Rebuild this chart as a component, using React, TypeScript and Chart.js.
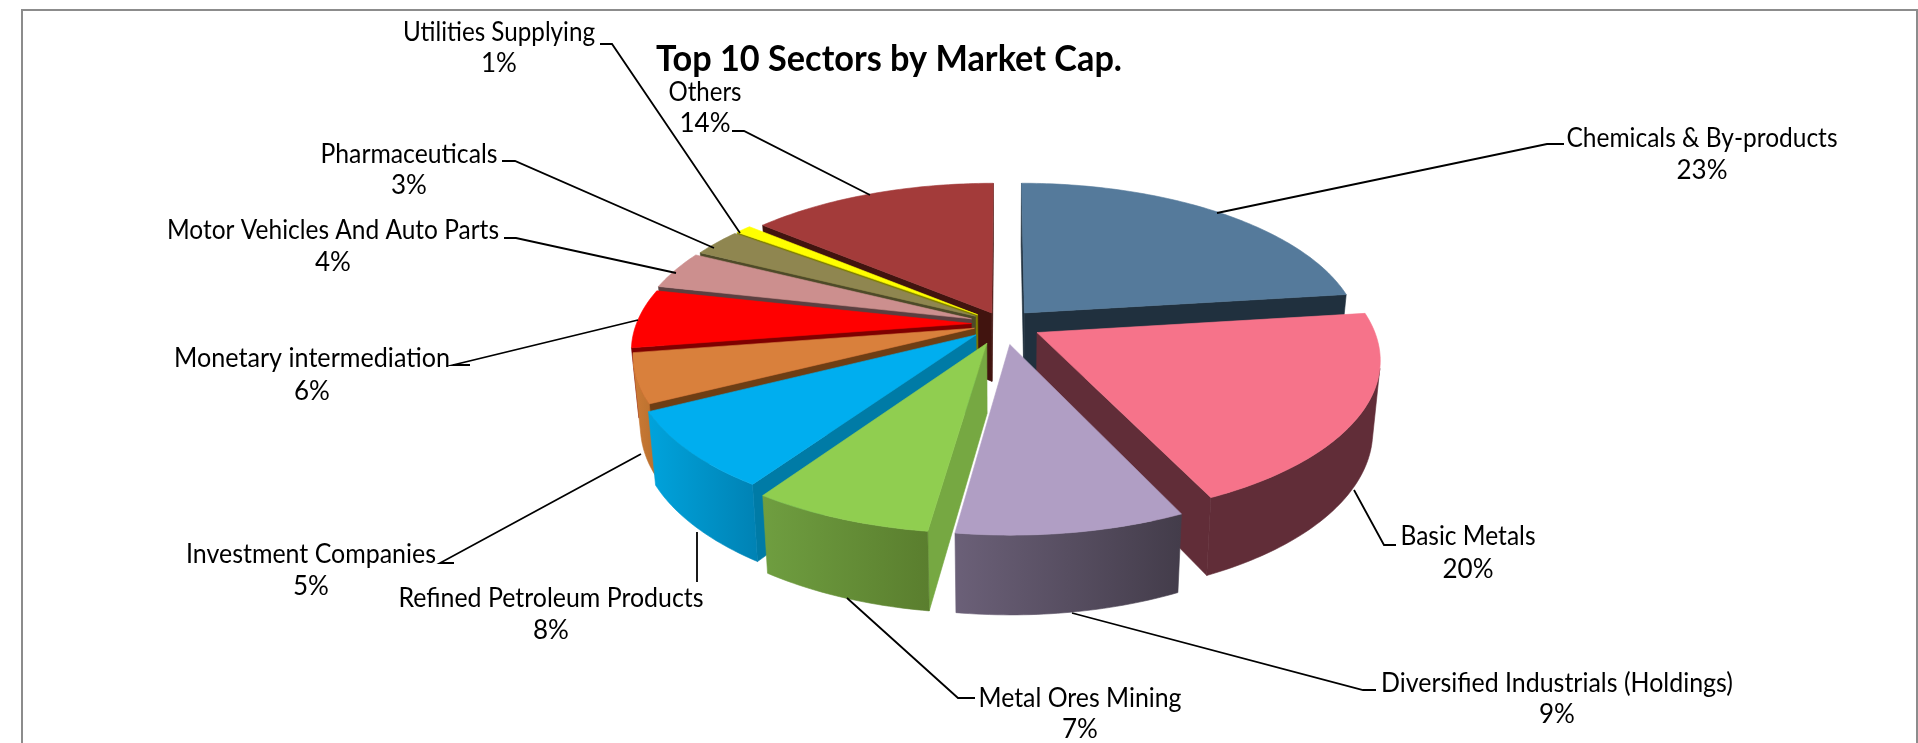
import React, { useEffect, useRef } from "react";
import { Chart, registerables } from "chart.js";

Chart.register(...registerables);

const categories = [
  "Chemicals & By-products",
  "Basic Metals",
  "Diversified Industrials (Holdings)",
  "Metal Ores Mining",
  "Refined Petroleum Products",
  "Investment Companies",
  "Monetary intermediation",
  "Motor Vehicles And Auto Parts",
  "Pharmaceuticals",
  "Utilities Supplying",
  "Others",
];
// the labels show them rounded to whole percents
const shares = [23, 20, 9.2, 7.3, 8.0, 5.04, 6.0, 3.9, 2.8, 0.9, 13.86];
const titleText = "Top 10 Sectors by Market Cap.";

// styling
const explode = [34, 40, 46, 46, 37, 31, 33, 35, 34, 34, 28];
const topColors = ["#557A9B", "#F6738A", "#B09EC4", "#90CE50", "#00AEEF", "#D9803C", "#FF0000", "#CC8F8E", "#8F8650", "#FFFF00", "#A33B3A"];
const cutColors = ["#20303E", "#612D38", "#4A4152", "#76A842", "#007BA6", "#6E3E14", "#7F0000", "#5B3F40", "#4E4A28", "#7F7F00", "#41140F"];
const wallLeft = ["#20303E", "#612D38", "#6B6078", "#6F9E40", "#00A3DC", "#CC7A35", "#C00000", "#A87070", "#706A40", "#BFBF00", "#7A2C2B"];
const wallRight = ["#20303E", "#612D38", "#433C4A", "#5A7E2E", "#0082B4", "#B8702E", "#A00000", "#A87070", "#706A40", "#BFBF00", "#7A2C2B"];

// label layout: [text centre x, first line y, second line y], leader points
const labelCentres: number[][] = [
  [1702, 139, 171], [1468, 537, 570], [1557, 684, 715], [1080, 699, 730], [551, 599, 631], [311, 555, 587],
  [312, 359, 392], [333, 231, 263], [409, 155, 186], [499, 33, 64], [705, 93, 124],
];
const labelWidths = [271, 135, 352, 203, 305, 250, 276, 332, 177, 192, 73];
const leaders: number[][][] = [
  [[1564, 144], [1547, 144], [1217, 213]],
  [[1396, 545], [1384, 545], [1354, 490]],
  [[1376, 690], [1363, 690], [1072, 613]],
  [[975, 698], [958, 698], [847, 598]],
  [[697, 582], [697, 532]],
  [[454, 563], [440, 563], [641, 454]],
  [[470, 365], [453, 365], [638, 320]],
  [[504, 238], [516, 238], [676, 273]],
  [[502, 161], [515, 161], [714, 248]],
  [[600, 44], [612, 44], [740, 233]],
  [[732, 131], [744, 131], [870, 195]],
];

const view = { cx: 1003, cy: 324, ax: 335, ay: 153.4, persp: 0.158, depth: 69, shrink: 0.98 };

function project(X: number, Y: number, bottom: boolean) {
  const den = 1 + view.persp * Y;
  let sx = (view.ax * X) / den;
  let sy = (view.ay * Y) / den;
  if (bottom) {
    sx *= view.shrink;
    sy = sy * view.shrink - view.depth / den;
  }
  return [view.cx + sx, view.cy - sy];
}

function fillPoly(ctx: CanvasRenderingContext2D, pts: number[][], fill: string | CanvasGradient) {
  ctx.beginPath();
  pts.forEach((p, i) => (i ? ctx.lineTo(p[0], p[1]) : ctx.moveTo(p[0], p[1])));
  ctx.closePath();
  ctx.fillStyle = fill;
  ctx.fill();
  ctx.strokeStyle = fill;
  ctx.lineWidth = 0.6;
  ctx.stroke();
}

function signedArea(pts: number[][]) {
  let s = 0;
  pts.forEach((p, i) => {
    const q = pts[(i + 1) % pts.length];
    s += p[0] * q[1] - q[0] * p[1];
  });
  return s / 2;
}

const pie3d = {
  id: "pie3d",
  beforeDatasetDraw: () => false,
  afterDatasetsDraw(chart: any) {
    const ctx: CanvasRenderingContext2D = chart.ctx;
    const arcs = chart.getDatasetMeta(0).data as any[];
    const slices = arcs.map((arc: any, i: number) => {
      const R = arc.outerRadius;
      const start = arc.startAngle + Math.PI / 2;
      const end = arc.endAngle + Math.PI / 2;
      const mid = (start + end) / 2;
      const e = (arc.options.offset || 0) / R;
      return { i, start, end, ox: e * Math.sin(mid), oy: e * Math.cos(mid), mid };
    });
    slices.sort((a: any, b: any) => b.oy - a.oy);
    ctx.save();
    slices.forEach((s: any) => {
      const n = Math.max(4, Math.ceil(((s.end - s.start) * 180) / Math.PI));
      const model: number[][] = [];
      for (let k = 0; k <= n; k++) {
        const t = s.start + ((s.end - s.start) * k) / n;
        model.push([s.ox + Math.sin(t), s.oy + Math.cos(t)]);
      }
      const top = model.map((m) => project(m[0], m[1], false));
      const bot = model.map((m) => project(m[0], m[1], true));
      const apexT = project(s.ox, s.oy, false);
      const apexB = project(s.ox, s.oy, true);
      const faces = [
        [apexT, top[0], bot[0], apexB],
        [apexT, apexB, bot[n], top[n]],
      ];
      faces.forEach((f) => {
        if (signedArea(f) < 0) fillPoly(ctx, f, cutColors[s.i]);
      });
      // front-facing part of the rim
      let from = -1;
      let to = -1;
      for (let k = 0; k < n; k++) {
        const q = [top[k], top[k + 1], bot[k + 1], bot[k]];
        if (signedArea(q) < 0) {
          if (from < 0) from = k;
          to = k + 1;
        }
      }
      if (from >= 0) {
        const rim = [...top.slice(from, to + 1), ...bot.slice(from, to + 1).reverse()];
        const xs = rim.map((p) => p[0]);
        const g = ctx.createLinearGradient(Math.min(...xs), 0, Math.max(...xs), 0);
        g.addColorStop(0, wallLeft[s.i]);
        g.addColorStop(1, wallRight[s.i]);
        fillPoly(ctx, rim, g);
      }
      fillPoly(ctx, [apexT, ...top], topColors[s.i]);
    });
    ctx.restore();
  },
  afterDraw(chart: any) {
    const ctx: CanvasRenderingContext2D = chart.ctx;
    const values = chart.data.datasets[0].data as number[];
    const labels = chart.data.labels as string[];
    ctx.save();
    // frame
    ctx.strokeStyle = "#8C8C8C";
    ctx.lineWidth = 2;
    ctx.beginPath();
    ctx.moveTo(22, 743);
    ctx.lineTo(22, 10);
    ctx.lineTo(1917, 10);
    ctx.lineTo(1917, 743);
    ctx.stroke();
    // leaders
    ctx.strokeStyle = "#000000";
    ctx.lineWidth = 1.8;
    leaders.forEach((pts) => {
      ctx.beginPath();
      pts.forEach((p, i) => (i ? ctx.lineTo(p[0], p[1]) : ctx.moveTo(p[0], p[1])));
      ctx.stroke();
    });
    // labels
    ctx.fillStyle = "#000000";
    ctx.textAlign = "center";
    ctx.textBaseline = "middle";
    ctx.font = "26px Lato";
    labels.forEach((t, i) => {
      const [x, y1, y2] = labelCentres[i];
      ctx.fillText(t, x, y1, labelWidths[i]);
      ctx.fillText(`${Math.round(values[i])}%`, x, y2);
    });
    ctx.font = "bold 36px Lato";
    ctx.fillText(titleText, 889, 59, 466);
    ctx.restore();
  },
};

export default function App() {
  const ref = useRef<HTMLCanvasElement>(null);
  useEffect(() => {
    document.body.style.margin = "0";
    document.body.style.background = "#fff";
    const chart = new Chart(ref.current!, {
      type: "pie",
      data: {
        labels: categories,
        datasets: [{ data: shares, backgroundColor: topColors, borderWidth: 0, offset: explode }],
      },
      options: {
        animation: false,
        responsive: false,
        events: [],
        plugins: { legend: { display: false }, tooltip: { enabled: false }, title: { display: false } },
      },
      plugins: [pie3d],
    } as any);
    return () => chart.destroy();
  }, []);
  return (
    <div style={{ width: 1918, height: 743, overflow: "hidden", background: "#fff" }}>
      <canvas ref={ref} width={1918} height={743} style={{ display: "block" }} />
    </div>
  );
}
